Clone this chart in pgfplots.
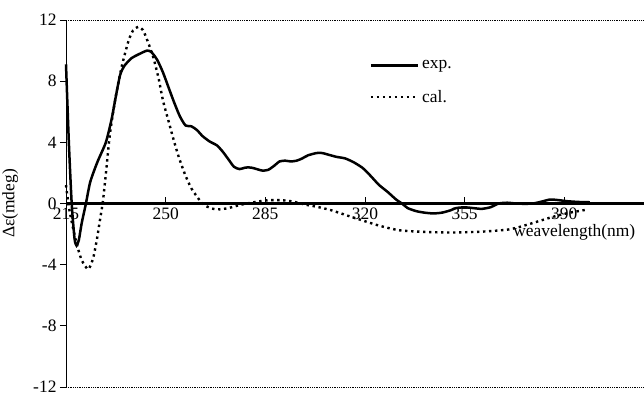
\documentclass[border=0pt]{standalone}
\usepackage{fontspec}
\setmainfont{Liberation Serif}
\usepackage{pgfplots}
\pgfplotsset{compat=1.18}

\pgfplotstableread{
x y
215 9.1
216 4.0
217 0.0
218 -2.3
218.7 -2.75
219.5 -2.4
220.5 -1.3
222 0.0
223.5 1.4
226 2.7
229 4.0
231 5.5
232.5 7.0
234 8.4
235.5 9.0
238 9.5
241 9.8
243.5 10.0
245 9.9
247 9.4
249 8.6
251 7.6
253 6.6
255 5.7
257 5.1
259 5.05
261 4.8
263 4.4
265.5 4.05
268 3.8
270 3.4
272 2.9
274 2.4
276 2.25
278 2.35
280 2.35
282 2.25
284 2.15
286 2.2
288 2.45
290 2.75
292 2.8
294 2.75
296 2.8
298 2.95
300 3.15
303 3.3
305 3.3
307 3.2
310 3.05
313 2.95
316 2.7
319 2.35
321 2.0
323 1.6
325 1.2
328 0.75
331 0.25
333 0.0
335 -0.3
338 -0.5
341 -0.6
344 -0.65
347 -0.6
350 -0.45
352 -0.3
355 -0.25
358 -0.3
361 -0.35
364 -0.25
367 0.0
370 0.05
373 0.0
376 -0.02
379 0.0
382 0.12
385 0.26
388 0.22
391 0.15
395 0.1
399 0.08
}\exptable

\pgfplotstableread{
x y
215 1.2
216 -0.2
217 -1.2
218.7 -2.6
220.5 -3.7
222.8 -4.3
224.5 -3.6
225.8 -2.4
227 -1.0
228 0.2
229.2 2.3
230.4 4.5
232.2 6.7
234.5 8.9
236.9 10.6
238.5 11.3
240.4 11.55
242 11.35
243.5 10.7
245.6 9.6
247.5 8.2
249.1 6.7
251 5.4
252.6 4.3
254.5 3.1
256.7 1.95
259 1.0
262 0.2
264 -0.15
266.7 -0.35
269 -0.38
272 -0.3
276 -0.1
280 0.05
285 0.2
290 0.22
294 0.15
299 -0.07
304 -0.25
308.5 -0.46
314 -0.8
319 -1.1
325 -1.45
332 -1.75
340 -1.85
350 -1.9
360 -1.85
366 -1.78
370.4 -1.7
374 -1.55
378.5 -1.3
382 -1.1
385.5 -0.9
389 -0.72
392.5 -0.58
398 -0.4
}\caltable

\begin{document}
\begin{tikzpicture}[font=\fontsize{17.5}{20}\selectfont]
\begin{axis}[
  scale only axis,
  width=578bp, height=367bp,
  xmin=215, xmax=418, ymin=-12, ymax=12,
  clip=false,
  axis x line=middle, axis y line=left,
  axis line style={-},
  x axis line style={line width=2.2bp},
  y axis line style={line width=0.8bp},
  hide obscured x ticks=false, hide obscured y ticks=false,
  xtick={215,250,285,320,355,390},
  ytick={-12,-8,-4,0,4,8,12},
  major tick length=6bp,
  ytick align=outside,
  xtick align=inside,
  tick style={black, line width=0.8bp},
  /pgf/number format/assume math mode=true,
  xticklabel style={yshift=-1bp},
  legend style={draw=none, fill=none, at={(axis cs:321.6,9.55)}, anchor=north west,
    row sep=14bp, inner sep=0pt, nodes={inner sep=3bp}, font=\fontsize{17.5}{20}\selectfont},
  legend cell align=left,
  legend image code/.code={\draw[#1] (0bp,0bp) -- (47bp,0bp);},
]
\coordinate (sw) at (rel axis cs:0,0);
\coordinate (ne) at (rel axis cs:1,1);
\addplot[black, line width=2.5bp, smooth, tension=0.4] table[x=x,y=y] {\exptable};
\addlegendentry{exp.}
\addplot[black, line width=2.4bp, dash pattern=on 2.4bp off 3.6bp, smooth, tension=0.4] table[x=x,y=y] {\caltable};
\addlegendentry{cal.}
\draw[densely dotted, line width=0.8bp] (rel axis cs:0,1) -- (rel axis cs:1,1);
\draw[densely dotted, line width=0.8bp] (rel axis cs:0,0) -- (rel axis cs:1,0);
\node at (axis cs:393.5,-1.9) {weavelength(nm)};
\node[rotate=90] at (axis cs:195.4,0) {Δε(mdeg)};
\end{axis}
\pgfresetboundingbox
\path[use as bounding box] ([xshift=-66bp,yshift=-7bp]sw) rectangle ([yshift=20bp]ne);
\end{tikzpicture}
\end{document}
